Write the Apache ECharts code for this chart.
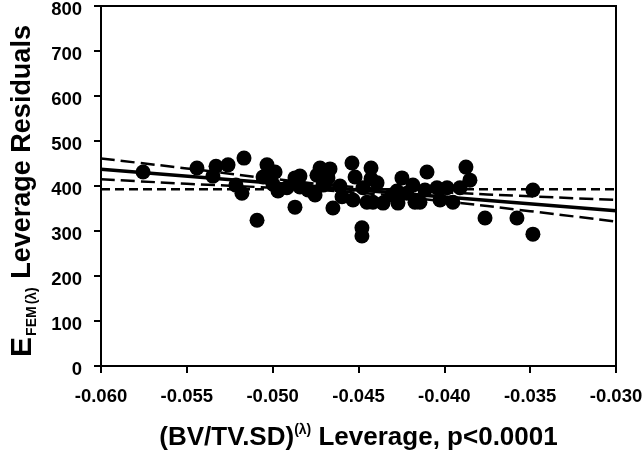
<!DOCTYPE html>
<html>
<head>
<meta charset="utf-8">
<script src="https://cdn.jsdelivr.net/npm/echarts@6/dist/echarts.min.js"></script>
<style>html,body{margin:0;padding:0;background:#fff;}#c{width:644px;height:452px;}</style>
</head>
<body>
<div id="c"></div>
<script>
// Scatter points (x, y)
const ptX = [-0.05755,-0.05441,-0.05330,-0.05348,-0.05260,-0.05167,-0.05214,-0.05179,-0.05091,-0.05033,
  -0.05056,-0.04986,-0.04998,-0.04969,-0.04917,-0.04870,-0.04870,-0.04841,-0.04841,-0.04794,
  -0.04753,-0.04724,-0.04666,-0.04742,-0.04678,-0.04707,-0.04649,-0.04608,-0.04596,-0.04538,
  -0.04520,-0.04532,-0.04474,-0.04451,-0.04427,-0.04427,-0.04416,-0.04480,-0.04480,-0.04392,
  -0.04357,-0.04276,-0.04270,-0.04247,-0.04183,-0.04171,-0.04113,-0.04101,-0.04142,-0.04043,
  -0.04025,-0.03984,-0.03950,-0.03909,-0.03874,-0.03851,-0.03763,-0.03577,-0.03484,-0.03484,
  -0.04305,-0.04218];
const ptY = [431,440,444,422,447,462,402,384,324,447,
  420,431,404,389,396,353,418,422,398,391,
  380,440,438,424,418,402,351,400,376,451,
  420,369,396,364,440,416,364,307,289,407,
  362,389,362,418,402,364,391,431,364,396,
  369,396,364,396,442,413,329,329,391,293,
  380,384];
// Regression fit line endpoints
const fitX = [-0.060, -0.030];
const fitY = [437, 345];
// Confidence band read at several x positions
const bandX = [-0.060, -0.055, -0.050, -0.045, -0.040, -0.035, -0.030];
const bandUpper = [461, 439, 416, 397, 386, 377, 369];
const bandLower = [415, 405, 396, 385, 366, 344, 321];
// Mean (horizontal) line
const meanX = [-0.060, -0.030];
const meanY = [393, 393];
// Axis ticks
const xTickLabels = ['-0.060','-0.055','-0.050','-0.045','-0.040','-0.035','-0.030'];
const yTickLabels = ['0','100','200','300','400','500','600','700','800'];

const FONT = 'Liberation Sans, Arial, sans-serif';
const zip = (a, b) => a.map((v, i) => [v, b[i]]);

const chart = echarts.init(document.getElementById('c'), null, {renderer: 'canvas'});
chart.setOption({
  animation: false,
  backgroundColor: '#fff',
  grid: {left: 101, right: 28, top: 6, bottom: 86, containLabel: false, outerBoundsMode: 'none',
    show: true, borderColor: '#000', borderWidth: 2, backgroundColor: 'transparent'},
  xAxis: {
    type: 'value', min: -0.060, max: -0.030, interval: 0.005,
    axisLine: {show: true, onZero: false, lineStyle: {color: '#000', width: 2}},
    axisTick: {show: true, inside: false, length: 7, lineStyle: {color: '#000', width: 2}},
    splitLine: {show: false},
    axisLabel: {color: '#000', fontFamily: FONT, fontWeight: 'bold', fontSize: 18.5, margin: 21,
      formatter: (v) => { const i = Math.round((v + 0.060) / 0.005); return xTickLabels[i]; }},
    name: '(BV/TV.SD){sup|(λ)} Leverage, p<0.0001',
    nameLocation: 'middle', nameGap: 57,
    nameTextStyle: {color: '#000', fontFamily: FONT, fontWeight: 'bold', fontSize: 26, lineHeight: 30,
      rich: {sup: {fontFamily: FONT, fontWeight: 'bold', fontSize: 14, lineHeight: 14, verticalAlign: 'top', color: '#000'}}}
  },
  yAxis: {
    type: 'value', min: 0, max: 800, interval: 100,
    axisLine: {show: true, onZero: false, lineStyle: {color: '#000', width: 2}},
    axisTick: {show: true, inside: false, length: 7, lineStyle: {color: '#000', width: 2}},
    splitLine: {show: false},
    axisLabel: {color: '#000', fontFamily: FONT, fontWeight: 'bold', fontSize: 18.5, margin: 19,
      formatter: (v) => '{v|' + yTickLabels[Math.round(v / 100)] + '}',
      rich: {v: {fontFamily: FONT, fontWeight: 'bold', fontSize: 18.5, color: '#000', padding: [8, 0, 0, 0]}}},
    name: '{e|E}{sub|FEM}{sub|(λ)} Leverage Residuals',
    nameLocation: 'middle', nameGap: 62,
    nameTextStyle: {color: '#000', fontFamily: FONT, fontWeight: 'bold', fontSize: 27, lineHeight: 32,
      padding: [0, 10, 0, 0],
      rich: {
        e: {fontFamily: FONT, fontWeight: 'bold', fontSize: 30, lineHeight: 32, color: '#000'},
        sub: {fontFamily: FONT, fontWeight: 'bold', fontSize: 14, lineHeight: 14, verticalAlign: 'bottom', color: '#000', padding: [0, 1, 0, 1]}
      }}
  },
  series: [
    {type: 'line', data: zip(meanX, meanY), symbol: 'none', z: 2,
      lineStyle: {color: '#000', width: 2.5, type: [9, 5]}},
    {type: 'line', data: zip(bandX, bandUpper), symbol: 'none', smooth: true, z: 2,
      lineStyle: {color: '#000', width: 2.5, type: [14, 6]}},
    {type: 'line', data: zip(bandX, bandLower), symbol: 'none', smooth: true, z: 2,
      lineStyle: {color: '#000', width: 2.5, type: [14, 6]}},
    {type: 'line', data: zip(fitX, fitY), symbol: 'none', z: 2,
      lineStyle: {color: '#000', width: 3.5}},
    {type: 'scatter', data: zip(ptX, ptY), symbol: 'circle', symbolSize: 15, z: 3,
      itemStyle: {color: '#000', opacity: 1}}
  ]
});
</script>
</body>
</html>
